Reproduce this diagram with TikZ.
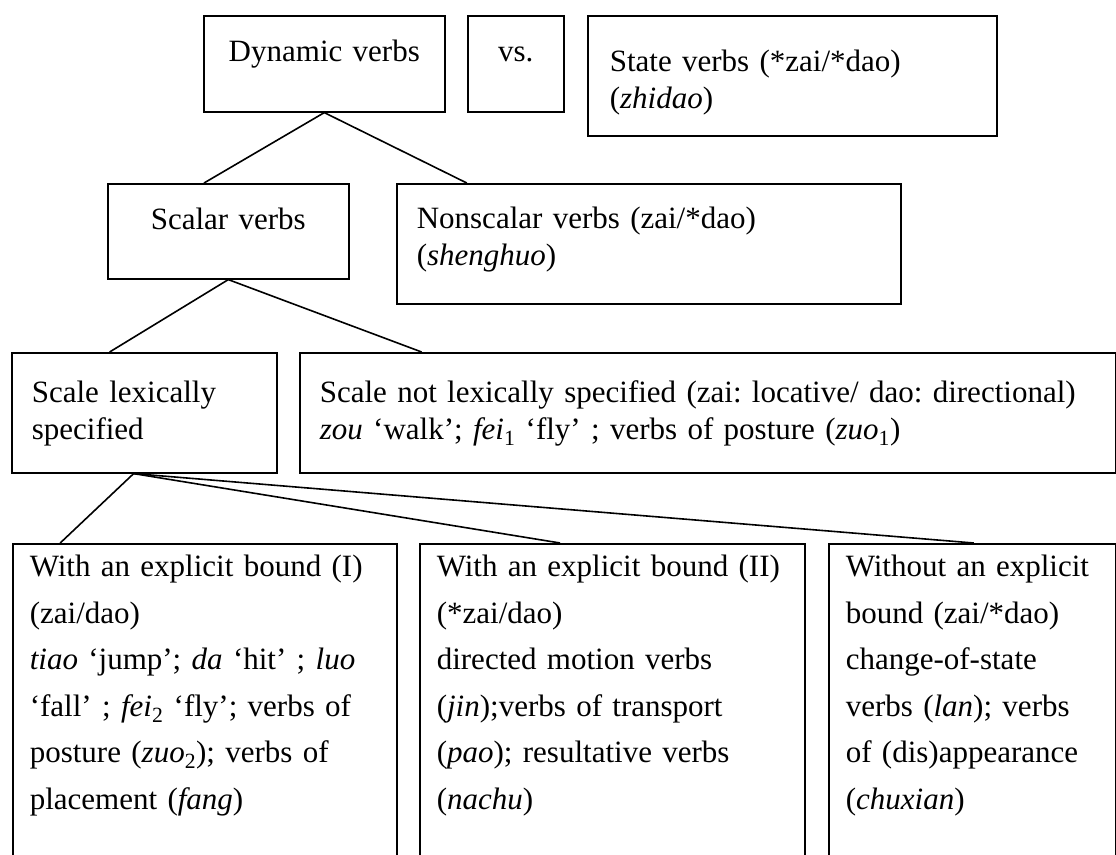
\documentclass[tikz,border=0pt]{standalone}
\usepackage{fontspec}
\setmainfont{Liberation Serif}
\frenchspacing
\usepackage{tikz}
\usetikzlibrary{calc}
\definecolor{TreeInk}{HTML}{000000}
\tikzset{
  catbox/.style={draw=TreeInk,line width=1.6pt,anchor=north west,inner xsep=20pt,inner ysep=0pt,font=\fontsize{31}{37}\selectfont},
  midbox/.style={catbox,align=center},
  leftbox/.style={catbox,align=left},
  tallbox/.style={leftbox,inner xsep=17pt,font=\fontsize{31}{46.5}\selectfont},
  branch/.style={draw=TreeInk,line width=1.6pt}
}

\begin{document}
\begin{tikzpicture}[x=1pt,y=-1pt]
\useasboundingbox (0,0) rectangle (1116,854);
\node[midbox,text width=201pt,text height=46pt,text depth=50pt] (dynbox) at (203,15) {Dynamic verbs};
\node[midbox,text width=56pt,text height=46pt,text depth=50pt] (vsbox) at (467,15) {vs.};
\node[leftbox,inner xsep=22pt,text width=365pt,text height=56pt,text depth=64pt] (statebox) at (587,15) {State verbs (*zai/*dao)\\(\textit{zhidao})};
\node[midbox,text width=201pt,text height=46pt,text depth=49pt] (scalarbox) at (107,183) {Scalar verbs};
\node[leftbox,text width=464pt,text height=45pt,text depth=75pt] (nonscalarbox) at (396,183) {Nonscalar verbs (zai/*dao)\\(\textit{shenghuo})};
\node[leftbox,text width=225pt,text height=50pt,text depth=70pt] (lexbox) at (11,352) {Scale lexically\\specified};
\node[leftbox,text width=776pt,text height=50pt,text depth=70pt] (nonlexbox) at (299,352) {Scale not lexically specified (zai: locative/ dao: directional)\\\textit{zou} `walk'; \textit{fei}\textsubscript{1} `fly' ; verbs of posture (\textit{zuo}\textsubscript{1})};
\node[tallbox,text width=350pt,text height=33pt,text depth=300pt] (boundone) at (12,543) {With an explicit bound (I)\\(zai/dao)\\\textit{tiao} `jump'; \textit{da} `hit' ; \textit{luo}\\`fall' ; \textit{fei}\textsubscript{2} `fly'; verbs of\\posture (\textit{zuo}\textsubscript{2}); verbs of\\placement (\textit{fang})};
\node[tallbox,text width=351pt,text height=33pt,text depth=300pt] (boundtwo) at (419,543) {With an explicit bound (II)\\(*zai/dao)\\directed motion verbs\\(\textit{jin});verbs of transport\\(\textit{pao}); resultative verbs\\(\textit{nachu})};
\node[tallbox,text width=253pt,text height=33pt,text depth=300pt] (nobound) at (828,543) {Without an explicit\\bound (zai/*dao)\\change-of-state\\verbs (\textit{lan}); verbs\\of (dis)appearance\\(\textit{chuxian})};
\draw[branch] (dynbox.south) -- ($(scalarbox.north west)!0.4!(scalarbox.north east)$);
\draw[branch] (dynbox.south) -- ($(nonscalarbox.north west)!0.14!(nonscalarbox.north east)$);
\draw[branch] (scalarbox.south) -- ($(lexbox.north west)!0.37!(lexbox.north east)$);
\draw[branch] (scalarbox.south) -- ($(nonlexbox.north west)!0.15!(nonlexbox.north east)$);
\draw[branch] ($(lexbox.south west)!0.46!(lexbox.south east)$) -- ($(boundone.north west)!0.125!(boundone.north east)$);
\draw[branch] ($(lexbox.south west)!0.46!(lexbox.south east)$) -- ($(boundtwo.north west)!0.365!(boundtwo.north east)$);
\draw[branch] ($(lexbox.south west)!0.46!(lexbox.south east)$) -- ($(nobound.north west)!0.505!(nobound.north east)$);
\end{tikzpicture}
\end{document}
